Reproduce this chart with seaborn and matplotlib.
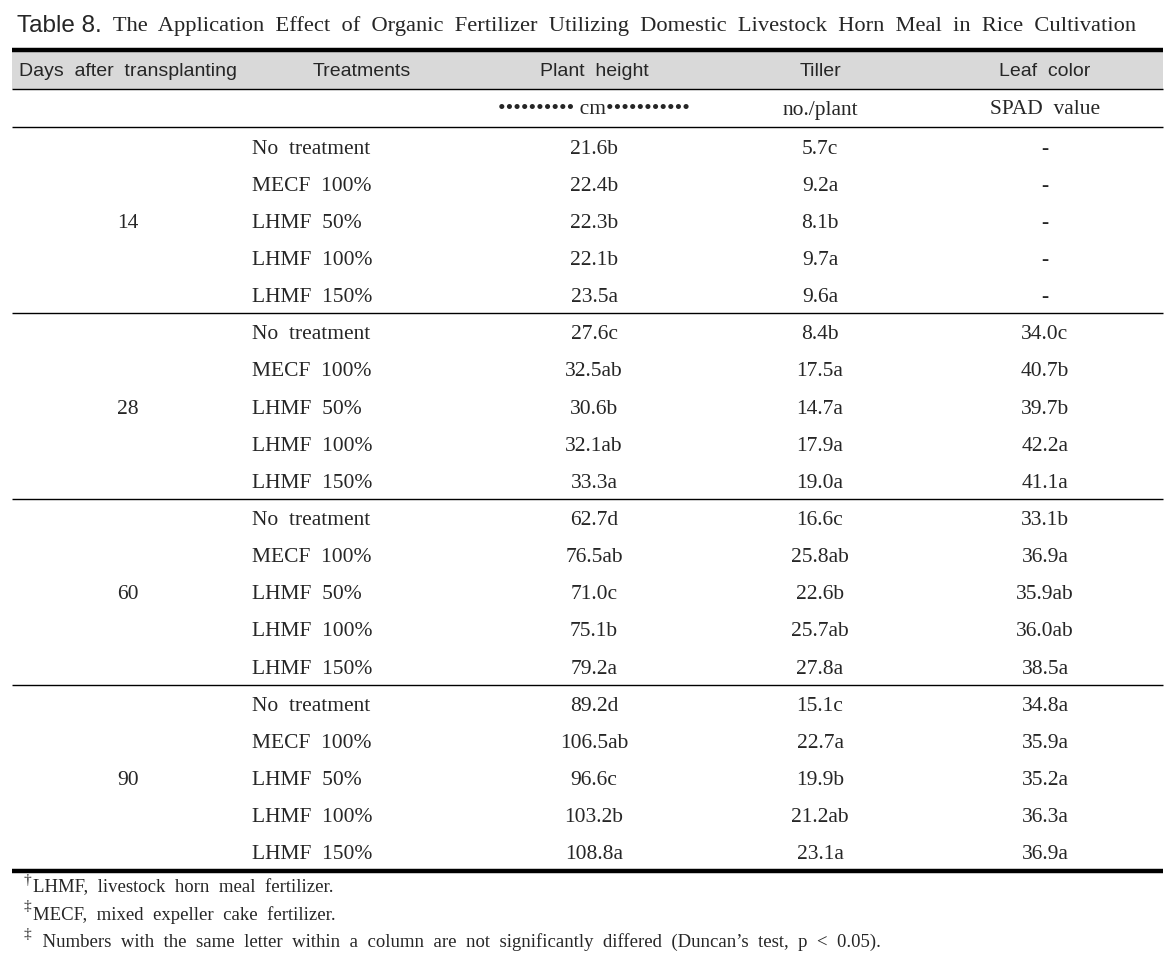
import numpy as np
import pandas as pd
import matplotlib
matplotlib.use("Agg")
import matplotlib.pyplot as plt
import seaborn as sns

# Table 8 values
days = ["14", "28", "60", "90"]
treatments = ["No treatment", "MECF 100%", "LHMF 50%", "LHMF 100%", "LHMF 150%"]

height = [21.6, 22.4, 22.3, 22.1, 23.5,
          27.6, 32.5, 30.6, 32.1, 33.3,
          62.7, 76.5, 71.0, 75.1, 79.2,
          89.2, 106.5, 96.6, 103.2, 108.8]
height_grp = ["b", "b", "b", "b", "a",
              "c", "ab", "b", "ab", "a",
              "d", "ab", "c", "b", "a",
              "d", "ab", "c", "b", "a"]

tiller = [5.7, 9.2, 8.1, 9.7, 9.6,
          8.4, 17.5, 14.7, 17.9, 19.0,
          16.6, 25.8, 22.6, 25.7, 27.8,
          15.1, 22.7, 19.9, 21.2, 23.1]
tiller_grp = ["c", "a", "b", "a", "a",
              "b", "a", "a", "a", "a",
              "c", "ab", "b", "ab", "a",
              "c", "a", "b", "ab", "a"]

spad = [None, None, None, None, None,
        34.0, 40.7, 39.7, 42.2, 41.1,
        33.1, 36.9, 35.9, 36.0, 38.5,
        34.8, 35.9, 35.2, 36.3, 36.9]
spad_grp = ["", "", "", "", "",
            "c", "b", "b", "a", "a",
            "b", "a", "ab", "ab", "a",
            "a", "a", "a", "a", "a"]

headers = ["Days after transplanting", "Treatments", "Plant height", "Tiller", "Leaf color"]
units = ["", "", "•••••••••• cm•••••••••••", "no./plant", "SPAD value"]
title_lead = "Table 8."
title_rest = "The Application Effect of Organic Fertilizer Utilizing Domestic Livestock Horn Meal in Rice Cultivation"
notes = [("†", "LHMF, livestock horn meal fertilizer."),
         ("‡", "MECF, mixed expeller cake fertilizer."),
         ("‡", " Numbers with the same letter within a column are not significantly differed (Duncan’s test, p < 0.05).")]


def fmt(v, g):
    return "-" if v is None else f"{v:.1f}{g}"


rows = []
for i in range(len(height)):
    rows.append({
        "day": days[i // len(treatments)],
        "treat": treatments[i % len(treatments)],
        "height": fmt(height[i], height_grp[i]),
        "tiller": fmt(tiller[i], tiller_grp[i]),
        "spad": fmt(spad[i], spad_grp[i]),
    })
df = pd.DataFrame(rows)

sns.set_theme(style="white")
serif = ["Liberation Serif", "DejaVu Serif"]
sans = ["Liberation Sans", "DejaVu Sans"]
plt.rcParams["font.family"] = serif

fig = plt.figure(figsize=(11.73, 9.67), dpi=100)
ax = fig.add_axes([0, 0, 1, 1])
ax.set_xlim(0, 1173)
ax.set_ylim(967, 0)
ax.axis("off")

left, right = 12, 1163
col_x = [128, 252, 594, 820, 1045]
head_x = [128, 362, 594, 820, 1045]
row0, step = 146, 37.15
fs = 15.5
dy = 3  # baseline nudge for serif body text

# title
t1 = ax.text(17, 26, title_lead, fontsize=17.5, family=sans, va="center", ha="left")
ax.annotate("  " + title_rest.replace(" ", "  "), xy=(1, 0.5), xycoords=t1, va="center",
            ha="left", fontsize=16.2, family=serif)

# header band and rules
ax.axhspan(51, 89, xmin=left / 1173, xmax=right / 1173, color="#d9d9d9", lw=0)
ax.hlines(50, left, right, color="black", lw=3.2)
ax.hlines(89, left, right, color="black", lw=1.0)
ax.hlines(127, left, right, color="black", lw=1.0)

for x, h in zip(head_x, headers):
    ax.text(x, 72, h.replace(" ", "  "), ha="center", va="center", fontsize=14, family=sans)
for x, u in zip(col_x, units):
    if u:
        ax.text(x, 108 + 2, u.replace(" ", "  ") if "•" not in u else u, ha="center",
                va="center", fontsize=fs, family=serif)

n = len(treatments)
for i, r in df.iterrows():
    y = row0 + i * step + dy
    ax.text(col_x[1], y, r["treat"].replace(" ", "  "), ha="left", va="center", fontsize=fs)
    ax.text(col_x[2], y, r["height"], ha="center", va="center", fontsize=fs)
    ax.text(col_x[3], y, r["tiller"], ha="center", va="center", fontsize=fs)
    ax.text(col_x[4], y, r["spad"], ha="center", va="center", fontsize=fs)

for g, d in enumerate(days):
    ax.text(col_x[0], row0 + (g * n + (n - 1) / 2) * step + dy, d, ha="center", va="center",
            fontsize=fs)
    if g < len(days) - 1:
        ax.hlines(row0 + (g * n + n - 0.5) * step, left, right, color="black", lw=1.0)

ax.hlines(row0 + (len(df) - 0.5) * step + 1, left, right, color="black", lw=3.2)

# footnotes
for k, (sym, txt) in enumerate(notes):
    y = 888 + k * 27
    ax.text(24, y - 8, sym, ha="left", va="center", fontsize=11, family=serif)
    ax.text(33, y, txt.replace(" ", "  "), ha="left", va="center", fontsize=13.5, family=serif)

fig.savefig("out.png", dpi=100)
